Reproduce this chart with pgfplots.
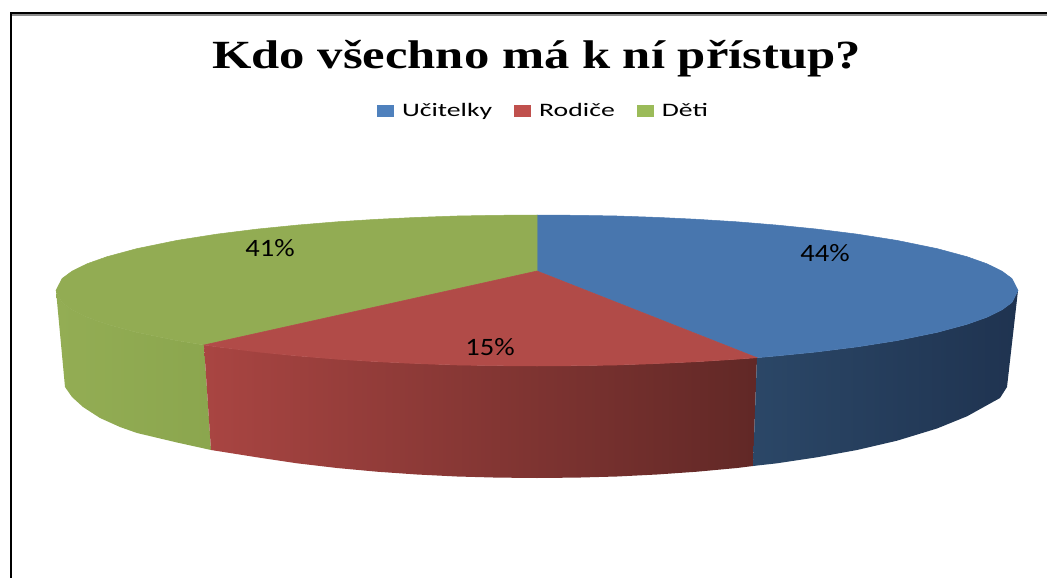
\documentclass[border=0pt]{standalone}
\usepackage{fontspec}
\setmainfont{Carlito}
\newfontfamily\titlefont{Liberation Serif}
\usepackage{pgfplots}
\pgfplotsset{compat=1.18}
\definecolor{blueTop}{HTML}{4876AE}
\definecolor{redTop}{HTML}{B14B48}
\definecolor{greenTop}{HTML}{92AC53}
\definecolor{blueKey}{HTML}{4F81BD}
\definecolor{redKey}{HTML}{C0504D}
\definecolor{greenKey}{HTML}{9BBB59}
\definecolor{greenA}{HTML}{93AD54}
\definecolor{greenB}{HTML}{8BA64E}
\definecolor{redA}{HTML}{A94542}
\definecolor{redB}{HTML}{612826}
\definecolor{blueA}{HTML}{2B4767}
\definecolor{blueB}{HTML}{1F3350}
\newcommand{\lab}[1]{\scalebox{1.14}[1]{\fontsize{25}{25}\selectfont #1}}
\newcommand{\leg}[1]{\scalebox{1.46}[1]{\fontsize{19}{19}\selectfont #1}}
\begin{document}
\begin{tikzpicture}
\begin{axis}[
  scale only axis, width=1047pt, height=578pt,
  xmin=0, xmax=1047, ymin=0, ymax=578, y dir=reverse,
  hide axis,
  legend columns=3,
  legend style={draw=none, fill=none, inner sep=0pt, outer sep=0pt,
    at={(axis cs:377,111)}, anchor=west,
    /tikz/every odd column/.style={column sep=6pt},
    /tikz/every even column/.style={column sep=20pt}},
  legend image code/.code={\fill[#1] (0pt,-6pt) rectangle (17pt,6pt);},
]
\addlegendimage{draw=none, fill=blueKey}
\addlegendentry{\leg{Učitelky}}
\addlegendimage{draw=none, fill=redKey}
\addlegendentry{\leg{Rodiče}}
\addlegendimage{draw=none, fill=greenKey}
\addlegendentry{\leg{Děti}}
% frame
\addplot[forget plot, black, line width=2pt] coordinates {(11,13) (11,578)};
\addplot[forget plot, gray!90, line width=2pt] coordinates {(12,15) (1047,15)};
\addplot[forget plot, black, line width=2.2pt] coordinates {(10,13) (1047,13)};
% sides
\addplot[forget plot, draw=none, left color=greenA, right color=greenB] coordinates {
 (56,290.5) (62,302.4) (72,309.8) (87,317.2) (107,324.3) (137,332.4) (177,340.6) (204,345)
 (211,450) (177,442.5) (137,433) (120,427) (100,418) (83,407) (72,397) (65,387)} -- cycle;
\addplot[forget plot, draw=none, left color=redA, right color=redB] coordinates {
 (204,345) (217,346.9) (297,355.9) (377,361.7) (457,365) (537,366) (617,365) (697,361.7) (757,357.7)
 (753,466) (737,468) (697,471.7) (657,474.5) (617,476.5) (577,477.6) (537,478) (497,477.6) (457,476.5) (417,474.5) (377,471.7) (337,468) (297,463.3) (257,457.3) (211,450)} -- cycle;
\addplot[forget plot, draw=none, left color=blueA, middle color=blueB, right color=blueB] coordinates {
 (757,357.7) (777,355.9) (817,351.9) (857,346.9) (897,340.6) (937,332.4) (967,324.3) (987,317.2) (1002,309.8) (1012,302.4) (1018,290.5)
 (1007,387) (1000,398) (987,405.2) (967,416.3) (937,428.5) (897,440.7) (857,450) (817,457.3) (777,463.3) (753,466)} -- cycle;
% top faces
\addplot[forget plot, draw=blueTop, line width=0.5pt, fill=blueTop] coordinates {
 (537,271) (537,215) (577,215.3) (617,216) (657,217.4) (697,219.3) (737,221.8) (777,225.1) (817,229.1) (857,234.1) (897,240.4) (937,248.6) (967,256.7) (987,263.8) (1002,271.2) (1012,278.6) (1018,290.5)
 (1012,302.4) (1002,309.8) (987,317.2) (967,324.3) (937,332.4) (897,340.6) (857,346.9) (817,351.9) (777,355.9) (757,357.7)} -- cycle;
\addplot[forget plot, draw=greenTop, line width=0.5pt, fill=greenTop] coordinates {
 (537,271) (204,345) (177,340.6) (137,332.4) (107,324.3) (87,317.2) (72,309.8) (62,302.4) (56,290.5) (62,278.6) (72,271.2) (87,263.8) (107,256.7) (137,248.6) (177,240.4) (217,234.1) (257,229.1) (297,225.1) (337,221.8) (377,219.3) (417,217.4) (457,216) (497,215.3) (537,215)} -- cycle;
\addplot[forget plot, draw=redTop, line width=0.5pt, fill=redTop] coordinates {
 (537,271) (757,357.7) (737,359.2) (697,361.7) (657,363.6) (617,365) (577,365.7) (537,366) (497,365.7) (457,365) (417,363.6) (377,361.7) (337,359.2) (297,355.9) (257,351.9) (217,346.9) (204,345)} -- cycle;
% text
\node at (axis cs:536.5,59) {\scalebox{1.266}[1]{\titlefont\bfseries\fontsize{40}{40}\selectfont Kdo všechno má k ní přístup?}};
\node at (axis cs:825,253) {\lab{44\%}};
\node at (axis cs:490,347) {\lab{15\%}};
\node at (axis cs:270,248) {\lab{41\%}};
\end{axis}
\path (current axis.south west) rectangle (current axis.north east);
\end{tikzpicture}
\end{document}
